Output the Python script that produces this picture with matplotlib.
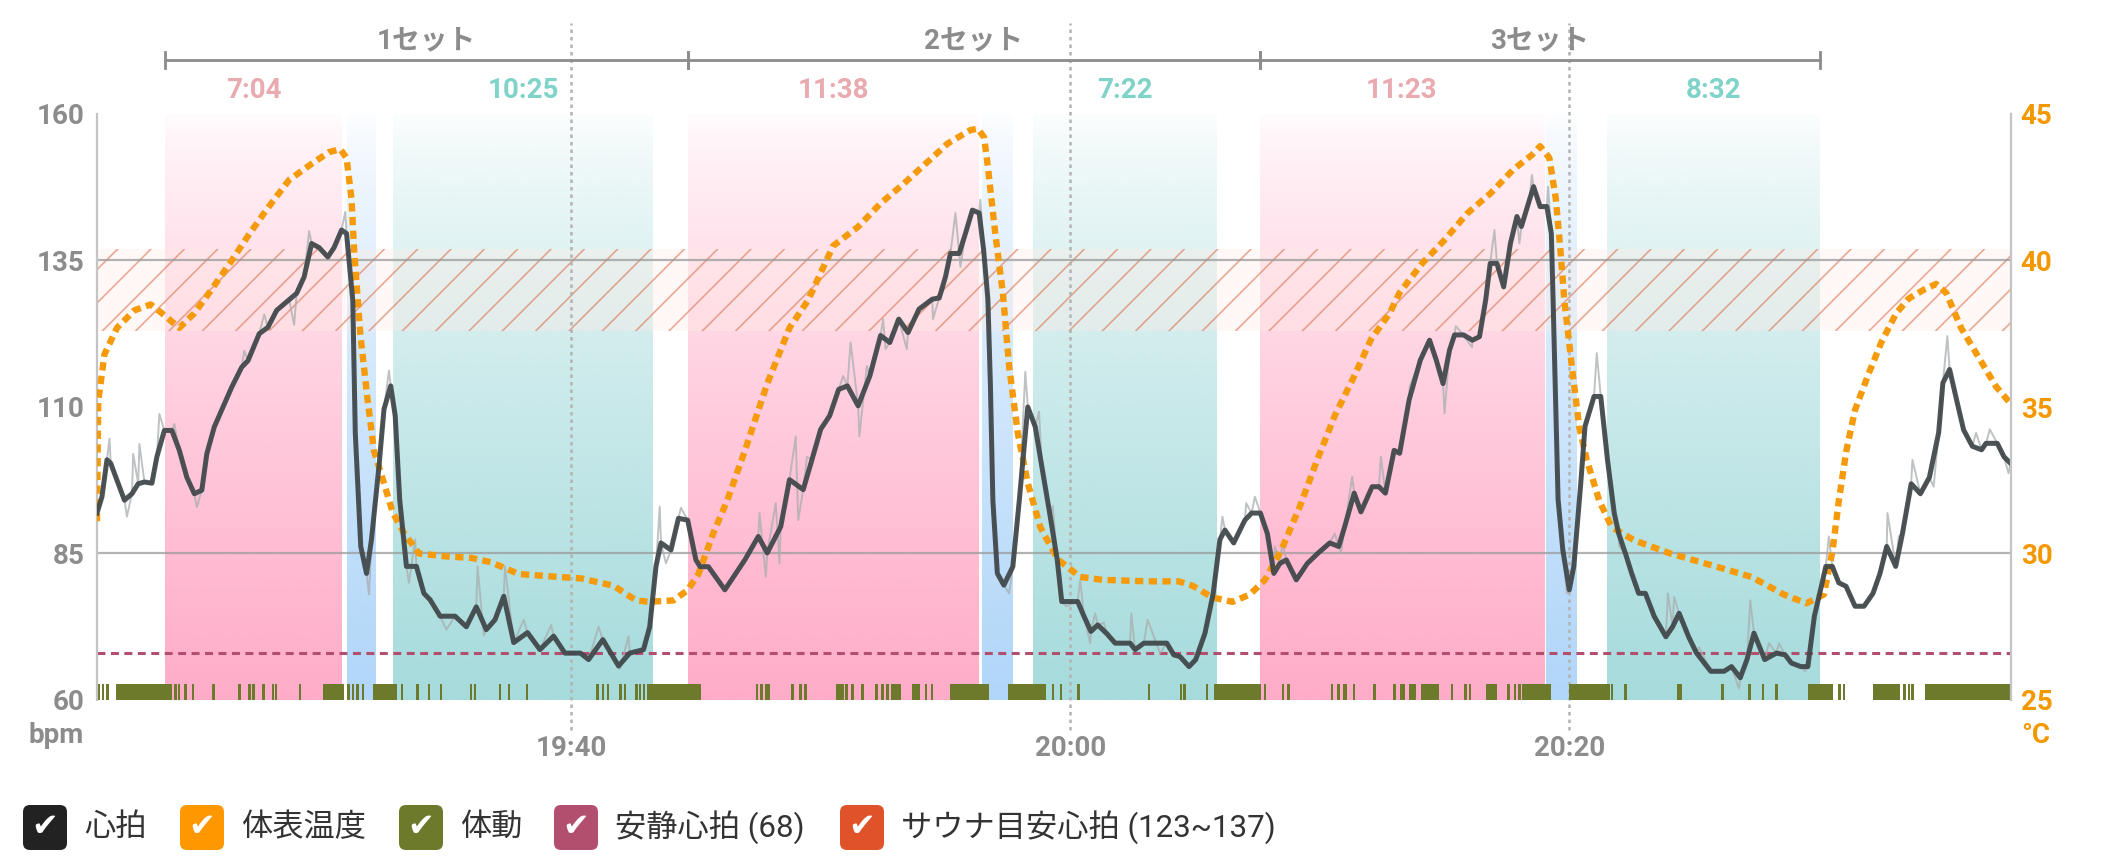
import numpy as np
import matplotlib.pyplot as plt
from matplotlib.patches import FancyBboxPatch
from matplotlib.transforms import blended_transform_factory

plt.rcParams['font.family'] = ['Roboto', 'Noto Sans CJK JP', 'DejaVu Sans']
plt.rcParams['hatch.linewidth'] = 1.2

# time axis: minutes after 19:00
time_ticks = [40, 60, 80]
time_labels = ['19:40', '20:00', '20:20']
bpm_ticks = [60, 85, 110, 135, 160]
temp_ticks = [25, 30, 35, 40, 45]

# sets: sauna / water bath / rest
set_names = ['1セット', '2セット', '3セット']
sauna_start = [23.74, 44.68, 67.60]
sauna_dur = ['7:04', '11:38', '11:23']
water_start = [31.01, 56.45, 79.06]
water_end = [32.14, 57.68, 80.30]
rest_start = [32.88, 58.52, 81.50]
rest_dur = ['10:25', '7:22', '8:32']

resting_hr = 68
sauna_zone = (123, 137)

# heart rate (smoothed)
hr_t = [21.0, 21.2, 21.4, 21.55, 21.8, 22.1, 22.4, 22.65, 22.9, 23.2, 23.4, 23.7, 24.0, 24.3, 24.6,
        24.9, 25.2, 25.4, 25.7, 26.05, 26.4, 26.8, 27.05, 27.5, 27.85, 28.2, 28.7, 29.0, 29.3, 29.6,
        29.9, 30.25, 30.5, 30.8, 31.0, 31.25, 31.35, 31.57, 31.8, 32.0, 32.3, 32.5, 32.77, 32.95, 33.13,
        33.4, 33.8, 34.1, 34.35, 34.75, 35.35, 35.8, 36.2, 36.6, 36.95, 37.3, 37.7, 38.25, 38.75, 39.3,
        39.75, 40.37, 40.7, 41.27, 41.9, 42.35, 42.9, 43.15, 43.4, 43.6, 44.0, 44.3, 44.67, 45.0, 45.17,
        45.5, 46.16, 46.6, 46.96, 47.5, 47.86, 48.4, 48.75, 49.3, 49.65, 50.0, 50.36, 50.72, 51.07, 51.5,
        51.97, 52.4, 52.77, 53.13, 53.5, 53.94, 54.47, 54.75, 55.0, 55.2, 55.55, 55.8, 56.08, 56.35, 56.53,
        56.7, 56.8, 56.9, 57.08, 57.34, 57.7, 57.96, 58.3, 58.6, 58.86, 59.2, 59.48, 59.66, 60.3, 60.55,
        60.83, 61.1, 61.45, 61.8, 62.4, 62.6, 62.95, 63.87, 64.15, 64.4, 64.76, 65.03, 65.4, 65.73, 66.0,
        66.2, 66.55, 67.0, 67.27, 67.62, 67.9, 68.16, 68.4, 68.66, 69.06, 69.5, 69.94, 70.4, 70.76, 71.0,
        71.38, 71.65, 72.1, 72.37, 72.63, 72.98, 73.2, 73.58, 74.03, 74.4, 74.67, 74.94, 75.2, 75.4, 75.76,
        76.12, 76.4, 76.65, 76.83, 77.1, 77.37, 77.64, 77.9, 78.08, 78.4, 78.57, 78.83, 79.1, 79.28, 79.35,
        79.45, 79.55, 79.74, 80.0, 80.18, 80.45, 80.63, 80.99, 81.26, 81.53, 81.8, 81.98, 82.25, 82.5, 82.78,
        83.05, 83.4, 83.87, 84.14, 84.4, 84.78, 85.1, 85.67, 86.2, 86.5, 86.85, 87.12, 87.4, 87.67, 87.83,
        88.3, 88.65, 88.9, 89.28, 89.56, 89.82, 90.1, 90.28, 90.54, 90.8, 91.09, 91.45, 91.81, 92.17, 92.45,
        92.72, 93.08, 93.35, 93.7, 94.07, 94.43, 94.8, 94.97, 95.24, 95.52, 95.8, 96.15, 96.52, 96.7, 97.15,
        97.42, 97.68]
hr_v = [91.9, 94.7, 101.0, 100.4, 97.5, 94.1, 95.2, 96.9, 97.2, 97.0, 101.5, 106.0, 106.0, 102.6, 98.0,
        95.2, 95.8, 102.0, 106.6, 110.0, 113.4, 116.8, 117.9, 122.5, 123.6, 126.5, 128.3, 129.4, 132.2, 137.9,
        137.2, 135.6, 137.2, 140.2, 139.6, 128.2, 105.6, 86.2, 81.6, 87.4, 99.9, 109.6, 113.6, 108.5, 94.2,
        82.8, 82.8, 78.2, 77.1, 74.3, 74.3, 72.5, 75.9, 72.0, 73.7, 77.7, 69.8, 71.5, 68.6, 70.9,
        68.0, 68.0, 66.9, 70.3, 65.8, 68.0, 68.6, 72.5, 82.8, 86.8, 85.6, 91.0, 90.7, 83.9, 82.75,
        82.75, 78.8, 81.6, 83.9, 87.9, 85.1, 89.6, 97.6, 95.9, 101.0, 106.2, 108.5, 113.0, 113.6, 110.2,
        115.3, 122.2, 121.0, 125.0, 122.7, 126.7, 128.4, 128.6, 132.2, 136.2, 136.2, 139.6, 143.6, 143.1, 136.8,
        128.4, 114.0, 94.1, 81.6, 79.6, 82.75, 94.1, 110.0, 106.6, 99.9, 91.3, 83.9, 76.8, 76.8, 74.3,
        71.7, 72.8, 71.4, 69.7, 69.7, 68.6, 69.7, 69.7, 67.7, 67.4, 65.7, 66.9, 71.4, 78.2, 87.4,
        89.0, 86.8, 90.7, 91.9, 91.9, 88.4, 81.6, 83.3, 83.9, 80.5, 83.3, 85.1, 86.8, 86.2, 89.6,
        95.3, 92.1, 96.4, 96.4, 95.3, 102.6, 102.1, 111.2, 118.0, 121.4, 118.0, 114.0, 119.7, 122.3, 122.3,
        121.4, 122.0, 128.3, 134.5, 134.5, 130.5, 137.9, 142.5, 140.8, 145.3, 147.6, 144.2, 144.2, 139.6, 128.3,
        111.2, 94.2, 85.6, 78.8, 82.8, 96.5, 106.7, 111.8, 111.8, 101.0, 91.9, 88.4, 85.0, 81.6, 78.2,
        78.2, 74.3, 70.8, 72.5, 74.8, 70.8, 68.0, 64.9, 64.9, 65.7, 63.8, 66.9, 71.4, 68.6, 66.9,
        68.0, 67.7, 66.3, 65.7, 65.7, 74.3, 79.4, 82.8, 82.8, 80.0, 79.4, 76.0, 76.0, 78.2, 81.6,
        86.2, 82.8, 88.4, 96.9, 95.2, 98.0, 105.6, 114.1, 116.4, 111.2, 106.1, 103.3, 102.7, 103.8, 103.8,
        101.5, 100.4]

# raw heart rate: extra readings where the raw trace departs from the smoothed one
raw_extra_t = [21.5, 22.2, 22.45, 22.7, 23.5, 24.1, 25.0, 26.9, 27.7, 28.9, 29.5, 30.95, 31.9, 32.7, 33.5,
               33.75, 35.0, 36.25, 36.5, 37.35, 38.1, 39.2, 41.1, 41.95, 42.3, 43.55, 43.8, 44.4, 47.55, 47.8,
               48.2, 48.35, 49.0, 49.1, 49.45, 50.9, 51.2, 51.55, 51.85, 52.5, 52.6, 53.05, 53.45, 54.5, 55.4,
               55.6, 56.4, 57.55, 58.2, 58.75, 59.3, 59.85, 60.4, 60.8, 61.0, 61.35, 62.45, 63.1, 63.6, 66.1,
               67.05, 67.4, 68.2, 68.5, 70.6, 70.85, 71.3, 72.45, 73.6, 75.0, 75.45, 76.1, 77.0, 78.0, 78.5,
               79.15, 79.9, 81.1, 82.0, 83.95, 84.2, 85.2, 86.8, 87.25, 88.0, 88.4, 89.45, 90.4, 92.75, 93.2,
               93.75, 94.6, 95.15, 96.3, 96.85, 97.6]
raw_extra_v = [104.6, 91.3, 102.0, 103.7, 108.8, 107.1, 92.9, 119.6, 125.8, 124.0, 140.0, 143.3, 78.0, 116.2, 80.0,
               87.4, 72.0, 82.8, 71.0, 82.8, 73.7, 72.8, 72.5, 65.3, 70.9, 93.0, 83.3, 92.8, 91.9, 81.0,
               93.6, 83.3, 105.0, 90.7, 101.5, 115.3, 121.0, 105.0, 117.0, 125.0, 119.9, 125.0, 119.9, 125.0, 143.1,
               133.9, 145.4, 78.2, 116.0, 109.2, 93.1, 76.0, 80.5, 69.7, 74.8, 73.2, 74.8, 73.7, 68.0, 91.3,
               93.6, 94.7, 86.2, 86.8, 88.4, 85.1, 98.1, 101.5, 113.5, 108.9, 123.8, 120.2, 140.2, 137.9, 149.6,
               147.6, 78.2, 119.2, 86.2, 78.2, 77.6, 69.0, 61.9, 77.0, 69.7, 69.7, 64.9, 87.9, 91.9, 87.9,
               101.0, 96.4, 122.1, 105.6, 106.2, 98.7]

# skin temperature (deg C)
temp_t = [21.0, 21.05, 21.3, 21.8, 22.5, 23.15, 23.6, 24.3, 24.9, 25.5, 26.4, 27.1, 27.85, 28.7, 29.6,
          30.3, 30.75, 31.0, 31.2, 31.3, 31.45, 31.55, 31.85, 32.1, 32.5, 32.85, 33.3, 33.9, 35.0, 36.0,
          36.8, 37.9, 39.5, 40.4, 41.7, 42.6, 43.1, 44.1, 44.67, 45.1, 45.7, 46.25, 46.96, 47.86, 48.75,
          49.5, 50.5, 51.5, 52.4, 53.3, 54.2, 55.1, 56.0, 56.3, 56.55, 56.7, 57.0, 57.3, 57.55, 57.9,
          58.3, 58.8, 59.5, 60.4, 61.3, 63.1, 64.35, 64.9, 65.7, 66.5, 67.2, 67.8, 68.45, 69.2, 69.9,
          70.6, 71.35, 72.05, 72.8, 73.2, 74.1, 75.0, 75.9, 76.85, 77.75, 78.5, 78.83, 79.2, 79.46, 79.64,
          79.8, 80.1, 80.4, 80.7, 81.2, 81.7, 82.6, 84.05, 85.9, 87.3, 88.6, 89.5, 90.2, 90.55, 90.8,
          91.1, 91.45, 92.0, 92.5, 93.1, 93.6, 94.2, 94.7, 95.1, 95.3, 95.7, 96.4, 97.1, 97.7]
temp_v = [31.1, 35.2, 36.8, 37.7, 38.3, 38.5, 38.2, 37.7, 38.2, 38.9, 40.0, 40.9, 41.8, 42.75, 43.3,
          43.7, 43.8, 43.5, 42.1, 40.4, 38.65, 37.5, 35.2, 33.5, 32.4, 31.4, 30.7, 30.0, 29.9, 29.85,
          29.7, 29.3, 29.2, 29.15, 28.9, 28.4, 28.35, 28.4, 28.75, 29.3, 30.7, 31.8, 33.5, 35.8, 37.7,
          38.65, 40.5, 41.15, 41.95, 42.6, 43.3, 44.0, 44.45, 44.5, 44.2, 43.2, 40.9, 38.9, 36.4, 34.1,
          32.4, 30.9, 29.8, 29.2, 29.1, 29.05, 29.05, 28.9, 28.5, 28.35, 28.6, 29.1, 30.1, 31.6, 33.2,
          34.7, 36.0, 37.3, 38.2, 38.9, 39.9, 40.7, 41.6, 42.3, 43.1, 43.6, 43.9, 43.5, 42.1, 40.4,
          38.65, 36.4, 34.3, 33.2, 31.8, 30.9, 30.45, 30.0, 29.55, 29.2, 28.6, 28.3, 28.6, 30.1, 31.8,
          33.5, 34.9, 36.15, 37.2, 38.2, 38.7, 39.0, 39.2, 38.9, 38.5, 37.7, 36.7, 35.7, 35.1]

# body movement intervals (start, end)
move = [(21.0, 21.12), (21.2, 21.3), (21.38, 21.5), (21.75, 24.0), (24.1, 24.2), (24.24, 24.34),
        (24.5, 24.6), (24.8, 24.9), (25.62, 25.74), (26.67, 26.79), (27.05, 27.17), (27.22, 27.32),
        (27.62, 27.72), (28.02, 28.1), (28.13, 28.21), (29.08, 29.18), (30.07, 30.89), (31.02, 31.12),
        (31.2, 31.3), (31.38, 31.48), (31.6, 31.7), (32.07, 33.04), (33.17, 33.27), (33.8, 33.9),
        (34.25, 34.35), (34.74, 34.84), (35.94, 36.04), (36.1, 36.2), (37.1, 37.2), (37.46, 37.56),
        (38.18, 38.28), (41.0, 41.1), (41.22, 41.32), (41.43, 41.53), (41.93, 42.03), (42.11, 42.21),
        (42.56, 42.66), (42.7, 42.8), (42.87, 42.97), (43.06, 45.2), (47.4, 47.5), (47.58, 47.68),
        (47.78, 47.98), (48.82, 48.92), (49.14, 49.24), (49.34, 49.44), (50.62, 50.92), (50.98, 51.08),
        (51.22, 51.32), (51.63, 51.73), (52.18, 52.28), (52.42, 52.52), (52.62, 52.72), (52.82, 53.2),
        (53.65, 53.98), (54.18, 54.28), (54.42, 54.52), (55.2, 56.75), (57.52, 59.04), (59.25, 59.35),
        (59.58, 59.68), (60.29, 60.39), (63.1, 63.2), (64.39, 64.49), (64.53, 64.63), (65.43, 65.53),
        (65.75, 67.63), (67.75, 67.85), (68.47, 68.57), (68.7, 68.8), (70.44, 70.54), (70.71, 70.81),
        (70.93, 71.11), (71.33, 71.43), (72.14, 72.24), (72.95, 73.05), (73.23, 73.41), (73.59, 73.86),
        (74.04, 74.76), (75.25, 75.35), (75.8, 75.9), (75.98, 76.08), (76.66, 77.11), (77.51, 77.61),
        (77.78, 77.88), (77.96, 78.06), (78.1, 79.28), (80.0, 81.62), (81.66, 81.76), (82.2, 82.3),
        (84.33, 84.51), (86.08, 86.18), (87.17, 87.27), (87.71, 87.81), (88.25, 88.35), (89.56, 90.56),
        (90.78, 90.88), (90.96, 91.06), (92.18, 93.26), (93.39, 93.49), (93.57, 93.67), (93.7, 93.8),
        (94.25, 97.7)]

legend_labels = ['心拍', '体表温度', '体動', '安静心拍 (68)', 'サウナ目安心拍 (123~137)']
legend_colors = ['#222222', '#ff9800', '#6d7a2c', '#b24e6e', '#e0522a']

GRAY = '#8c8c8c'
ORANGE = '#f39800'
W, H = 2106, 861


def mins(s):
    m, sec = s.split(':')
    return int(m) + int(sec) / 60


def gradient(rgb):
    g = np.ones((256, 1, 4))
    g[..., :3] = np.array(rgb) / 255
    g[..., 3] = 0.03 + 0.97 * np.linspace(0, 1, 256)[:, None] ** 0.75
    return g


fig = plt.figure(figsize=(W / 100, H / 100), dpi=100)
ax = fig.add_axes([97 / W, 1 - 700 / H, 1914 / W, 586 / H])
ax2 = ax.twinx()

# background phases
sauna_end = [s + mins(d) for s, d in zip(sauna_start, sauna_dur)]
rest_end = [s + mins(d) for s, d in zip(rest_start, rest_dur)]
for s, e in zip(sauna_start, sauna_end):
    ax.imshow(gradient((255, 172, 200)), extent=(s, e, 60, 160), aspect='auto', zorder=0.5)
for s, e in zip(water_start, water_end):
    ax.imshow(gradient((176, 214, 249)), extent=(s, e, 60, 160), aspect='auto', zorder=0.5)
for s, e in zip(rest_start, rest_end):
    ax.imshow(gradient((166, 219, 220)), extent=(s, e, 60, 160), aspect='auto', zorder=0.5)

# sauna target zone
ax.axhspan(*sauna_zone, facecolor=(1.0, 0.93, 0.9, 0.35), edgecolor='none', zorder=1)
ax.axhspan(*sauna_zone, facecolor='none', edgecolor=(0.86, 0.47, 0.34, 0.62), hatch='/',
           linewidth=0, zorder=1.1)

for y in (85, 135):
    ax.axhline(y, color='#9a9a9a', lw=1.6, alpha=0.75, zorder=1.5)

for t in time_ticks:
    ax.axvline(t, ymin=-0.052, ymax=1.155, color='#b3b3b3', lw=1.8, ls=(0, (1.4, 1.6)),
               clip_on=False, zorder=1.6)

ax.broken_barh([(s, e - s) for s, e in move], (60, 2.8), facecolors='#6d7a2c', zorder=2)
ax.axhline(resting_hr, color='#b24e6e', lw=2.2, ls=(0, (2.6, 1.8)), zorder=2.5)

raw = sorted(zip(hr_t + raw_extra_t, hr_v + raw_extra_v))
ax.plot([p[0] for p in raw], [p[1] for p in raw], color='#a9aeb0', lw=1.4, alpha=0.75, zorder=3)
ax.plot(temp_t, temp_v, transform=ax2.transData, color='#f59b0b', lw=4.6,
        ls=(0, (1.3, 0.85)), zorder=3.5)
ax.plot(hr_t, hr_v, color='#3e4548', lw=3.6, alpha=0.92, zorder=4)

ax.set_xlim(21.0, 97.7)
ax.set_ylim(60, 160)
ax2.set_ylim(25, 45)

# axes styling
for sp in ax.spines.values():
    sp.set_visible(False)
for sp in ax2.spines.values():
    sp.set_visible(False)
ax.spines['left'].set_visible(True)
ax.spines['left'].set_color('#c4c4c4')
ax.spines['left'].set_linewidth(1.6)
ax2.spines['right'].set_visible(True)
ax2.spines['right'].set_color('#c4c4c4')
ax2.spines['right'].set_linewidth(1.6)

ax.set_xticks([])
ax.set_yticks(bpm_ticks)
ax.tick_params(axis='y', length=0, pad=9, labelsize=20, labelcolor=GRAY)
ax2.set_yticks(temp_ticks)
ax2.tick_params(axis='y', length=0, pad=7, labelsize=20, labelcolor=ORANGE)
for lbl in ax.get_yticklabels() + ax2.get_yticklabels():
    lbl.set_fontweight('bold')

trans = blended_transform_factory(ax.transData, ax.transAxes)
for t, lbl in zip(time_ticks, time_labels):
    ax.text(t, -0.082, lbl, transform=trans, ha='center', va='center', fontsize=20,
            color=GRAY, fontweight='bold')
ax.text(-0.0068, -0.06, 'bpm', transform=ax.transAxes, ha='right', va='center', fontsize=20,
        color=GRAY, fontweight='bold')
ax.text(1.0052, -0.06, '°C', transform=ax.transAxes, ha='left', va='center', fontsize=20,
        color=ORANGE, fontweight='bold')

# set brackets and phase durations
set_end = sauna_start[1:] + [rest_end[-1]]
y_br = (700 - 60) / 586
dy = 8 / 586
for name, s, e in zip(set_names, sauna_start, set_end):
    ax.plot([s, e], [y_br, y_br], transform=trans, color=GRAY, lw=2, clip_on=False)
    for x in (s, e):
        ax.plot([x, x], [y_br - dy, y_br + dy], transform=trans, color=GRAY, lw=2, clip_on=False)
    ax.text((s + e) / 2, (700 - 41) / 586, name, transform=trans, ha='center', va='center',
            fontsize=20, color=GRAY, fontweight='bold')

y_dur = (700 - 90) / 586
for s, e, d in zip(sauna_start, sauna_end, sauna_dur):
    ax.text((s + e) / 2, y_dur, d, transform=trans, ha='center', va='center', fontsize=20,
            color='#e9aab0', fontweight='bold')
for s, e, d in zip(rest_start, rest_end, rest_dur):
    ax.text((s + e) / 2, y_dur, d, transform=trans, ha='center', va='center', fontsize=20,
            color='#80d3c8', fontweight='bold')

# legend with check boxes
box_x = [23, 180, 399, 554, 840]
cy = 1 - 827.5 / H
bw, bh = 44, 45
for x, lbl, c in zip(box_x, legend_labels, legend_colors):
    fig.add_artist(FancyBboxPatch((x / W, cy - bh / 2 / H), bw / W, bh / H,
                                  boxstyle='round,pad=0,rounding_size=%f' % (7 / W),
                                  mutation_aspect=W / H, transform=fig.transFigure,
                                  facecolor=c, edgecolor='none'))
    fig.text((x + bw / 2) / W, cy, '✔', color='white', fontsize=23, ha='center', va='center',
             family='DejaVu Sans')
    fig.text((x + bw + 17) / W, cy, lbl, color='#333333', fontsize=22.5, ha='left', va='center')

fig.savefig('out.png', dpi=100)
